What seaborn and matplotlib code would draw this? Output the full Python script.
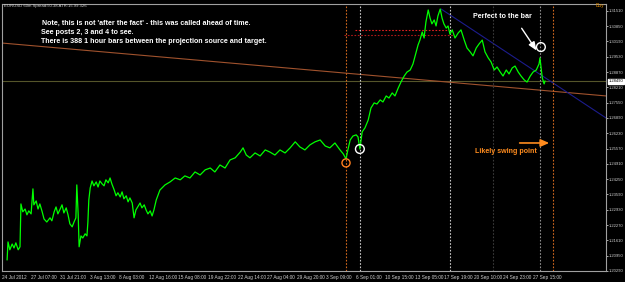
import matplotlib
matplotlib.use("Agg")
import matplotlib.pyplot as plt
import seaborn as sns
import pandas as pd

# ---------------- data ----------------
bars = [11, 13, 17, 22, 26, 30, 35, 39, 41, 45, 50, 54, 58, 63, 67, 69, 74, 78, 82, 87,
        91, 97, 104, 108, 113, 117, 121, 126, 130, 134, 139, 143, 147, 152, 156, 160, 162, 165, 167, 171,
        175, 180, 184, 186, 188, 191, 195, 199, 204, 208, 212, 217, 221, 225, 230, 234, 238, 243, 247, 251,
        256, 260, 264, 269, 273, 277, 282, 286, 290, 295, 299, 303, 308, 312, 316, 321, 325, 329, 334, 338,
        342, 353, 364, 375, 386, 396, 407, 418, 429, 440, 451, 461, 472, 483, 494, 505, 516, 522, 529, 537,
        548, 559, 570, 580, 591, 602, 613, 624, 635, 645, 656, 667, 678, 689, 700, 710, 721, 732, 739, 745,
        749, 754, 760, 767, 771, 775, 780, 786, 793, 799, 806, 812, 819, 825, 832, 838, 845, 851, 858, 864,
        871, 877, 884, 890, 897, 901, 905, 910, 914, 918, 923, 927, 931, 936, 940, 944, 949, 953, 957, 962,
        966, 970, 975, 981, 988, 994, 1001, 1007, 1014, 1020, 1027, 1033, 1040, 1046, 1053, 1059, 1066, 1072, 1079, 1085,
        1092, 1098, 1105, 1111, 1118, 1124, 1131, 1137, 1144, 1150, 1157, 1163, 1165, 1170, 1174, 1176]
close = [1.2076, 1.2154, 1.2120, 1.2145, 1.2128, 1.2150, 1.2120, 1.2133, 1.2318, 1.2284, 1.2296, 1.2271, 1.2288, 1.2275, 1.2383, 1.2314, 1.2331, 1.2296, 1.2318, 1.2284,
         1.2253, 1.2240, 1.2258, 1.2245, 1.2284, 1.2305, 1.2275, 1.2296, 1.2314, 1.2279, 1.2301, 1.2271, 1.2232, 1.2219, 1.2240, 1.2258, 1.2400, 1.2271, 1.2133, 1.2180,
         1.2171, 1.2189, 1.2180, 1.2240, 1.2335, 1.2387, 1.2417, 1.2396, 1.2413, 1.2391, 1.2417, 1.2404, 1.2396, 1.2422, 1.2409, 1.2430, 1.2404, 1.2378, 1.2353, 1.2366,
         1.2348, 1.2370, 1.2340, 1.2353, 1.2327, 1.2344, 1.2322, 1.2258, 1.2292, 1.2309, 1.2322, 1.2301, 1.2314, 1.2292, 1.2275, 1.2288, 1.2266, 1.2292, 1.2335, 1.2357,
         1.2378, 1.2400, 1.2413, 1.2430, 1.2422, 1.2439, 1.2430, 1.2456, 1.2443, 1.2465, 1.2473, 1.2456, 1.2486, 1.2473, 1.2508, 1.2517, 1.2542, 1.2560, 1.2529, 1.2517,
         1.2538, 1.2525, 1.2551, 1.2542, 1.2529, 1.2551, 1.2538, 1.2560, 1.2586, 1.2564, 1.2551, 1.2573, 1.2586, 1.2594, 1.2568, 1.2560, 1.2581, 1.2551, 1.2534, 1.2512,
         1.2551, 1.2594, 1.2611, 1.2616, 1.2607, 1.2555, 1.2629, 1.2646, 1.2680, 1.2732, 1.2754, 1.2749, 1.2767, 1.2758, 1.2784, 1.2775, 1.2797, 1.2784, 1.2818, 1.2844,
         1.2870, 1.2887, 1.2896, 1.2922, 1.2974, 1.3004, 1.3025, 1.3060, 1.3034, 1.3103, 1.3155, 1.3120, 1.3095, 1.3112, 1.3086, 1.3129, 1.3159, 1.3120, 1.3095, 1.3077,
         1.3086, 1.3051, 1.3069, 1.3034, 1.3056, 1.3069, 1.3025, 1.2991, 1.2974, 1.2957, 1.2991, 1.3008, 1.3025, 1.2974, 1.2948, 1.2931, 1.2896, 1.2909, 1.2887, 1.2870,
         1.2896, 1.2879, 1.2905, 1.2913, 1.2887, 1.2870, 1.2853, 1.2844, 1.2870, 1.2887, 1.2896, 1.2922, 1.2948, 1.2862, 1.2836, 1.2849]

price_ticks = [1.20290, 1.20950, 1.21610, 1.22270, 1.22930, 1.23590, 1.24250, 1.24910, 1.25570,
               1.26230, 1.26890, 1.27550, 1.28210, 1.28870, 1.29530, 1.30190, 1.30850, 1.31510]
date_tick_bars = [0, 62, 126, 190, 254, 318, 382, 446, 510, 574, 638, 702, 766, 830, 894, 958, 1022, 1086, 1150]
date_tick_labels = ["24 Jul 2012", "27 Jul 07:00", "31 Jul 21:00", "3 Aug 13:00", "8 Aug 03:00",
                    "12 Aug 16:00", "15 Aug 08:00", "19 Aug 22:00", "22 Aug 14:00", "27 Aug 04:00",
                    "29 Aug 20:00", "3 Sep 09:00", "6 Sep 01:00", "10 Sep 15:00", "13 Sep 05:00",
                    "17 Sep 19:00", "20 Sep 10:00", "24 Sep 23:00", "27 Sep 15:00"]
vline_bars = [745, 775, 970, 1063, 1165, 1193]
vline_colors = ["#d2691e", "#c8c8c8", "#c8c8c8", "#3a3a3a", "#909090", "#d2691e"]
last_price = 1.28490

df = pd.DataFrame({"bar": bars, "close": close})

# ---------------- figure ----------------
sns.set_style("dark", {"axes.facecolor": "black"})
plt.rcParams["font.family"] = ["Liberation Sans", "DejaVu Sans"]

W, H = 625, 282
fig = plt.figure(figsize=(W / 100, H / 100), dpi=100, facecolor="black")
ax = fig.add_axes([2 / W, 11 / H, 604 / W, 267 / H])
ax.set_facecolor("black")

XMAX = 1308
ax.set_xlim(0, XMAX)
ax.set_ylim(1.20290 - 0.00005, 1.20290 + (271 - 4) / 15.3 * 0.0066)

# background objects
ax.axhline(last_price, color="#55552a", lw=0.8, zorder=1)
ax.plot([-4, 1308], [1.3013, 1.2784], color="#a0522d", lw=0.8, zorder=2)
ax.plot([951, 1308], [1.3159, 1.2689], color="#1c1c8c", lw=0.8, zorder=2)
ax.plot([765, 964], [1.3069, 1.3069], color="#e02020", lw=0.8, ls=(0, (1.5, 1.5)), zorder=2)
ax.plot([741, 977], [1.3047, 1.3047], color="#b01818", lw=0.8, ls=(0, (1.5, 1.5)), zorder=2)
for b, c in zip(vline_bars, vline_colors):
    ax.axvline(b, color=c, lw=0.8, ls=(0, (1.5, 1.5)), zorder=2)

sns.lineplot(data=df, x="bar", y="close", color="#00ff00", lw=0.9, ax=ax, zorder=3)

# circles
ax.scatter([745], [1.2495], s=34, facecolors="none", edgecolors="#ff7f1e", linewidths=1, zorder=4)
ax.scatter([775, 1167], [1.2555, 1.2995], s=40, facecolors="none", edgecolors="white", linewidths=1, zorder=4)

# axis style
for s in ["left", "bottom", "right", "top"]:
    ax.spines[s].set_color("#a0a0a0")
    ax.spines[s].set_linewidth(0.8)
ax.grid(False)
ax.yaxis.tick_right()
ax.set_yticks(price_ticks)
ax.set_yticklabels([f"{p:.5f}" for p in price_ticks])
ax.set_xticks(date_tick_bars)
ax.set_xticklabels(date_tick_labels, ha="left")
ax.tick_params(axis="y", colors="#c8c8c8", labelsize=3.0, length=1.5, width=0.6, pad=0.8, labelcolor="#d0d0d0")
ax.tick_params(axis="x", colors="#c8c8c8", labelsize=3.4, length=2, width=0.6, pad=1, labelcolor="#d0d0d0")
ax.set_xlabel("")
ax.set_ylabel("")

# texts (figure pixel coordinates)
def ftext(x, y, s, **kw):
    fig.text(x / W, 1 - y / H, s, **kw)

ftext(4, 6, "EURUSD 60m Spread:50.38 ATR:15.99.326", color="#d0d0d0", fontsize=3.1, va="center")
ftext(42, 23.5, "Note, this is not 'after the fact' - this was called ahead of time.",
      color="white", fontsize=5.1, fontweight="bold", va="center")
ftext(41, 32.5, "See posts 2, 3 and 4 to see.", color="white", fontsize=5.1, fontweight="bold", va="center")
ftext(41, 41.5, "There is 388 1 hour bars between the projection source and target.",
      color="white", fontsize=5.1, fontweight="bold", va="center")
ftext(473, 16.5, "Perfect to the bar", color="white", fontsize=5.1, fontweight="bold", va="center")
ftext(475, 151, "Likely swing point", color="#ff8c1e", fontsize=5.1, fontweight="bold", va="center")
ftext(596, 6, "Buy", color="#e08a00", fontsize=3.6, va="center")

# price box
ftext(608.5, 81.5, f"{last_price:.5f}", color="black", fontsize=3.0, va="center",
      bbox=dict(boxstyle="square,pad=0.15", fc="white", ec="white"))

# arrows
ax.annotate("", xy=(1161, 1.2970), xytext=(1122, 1.3086),
            arrowprops=dict(arrowstyle="-|>,head_length=0.5,head_width=0.2", color="white", lw=1), zorder=5)
ax.annotate("", xy=(1191, 1.2581), xytext=(1115, 1.2581),
            arrowprops=dict(arrowstyle="-|>,head_length=0.5,head_width=0.22", color="#ff8c1e", lw=1.2), zorder=5)

fig.savefig("out.png", dpi=100, facecolor="black")
